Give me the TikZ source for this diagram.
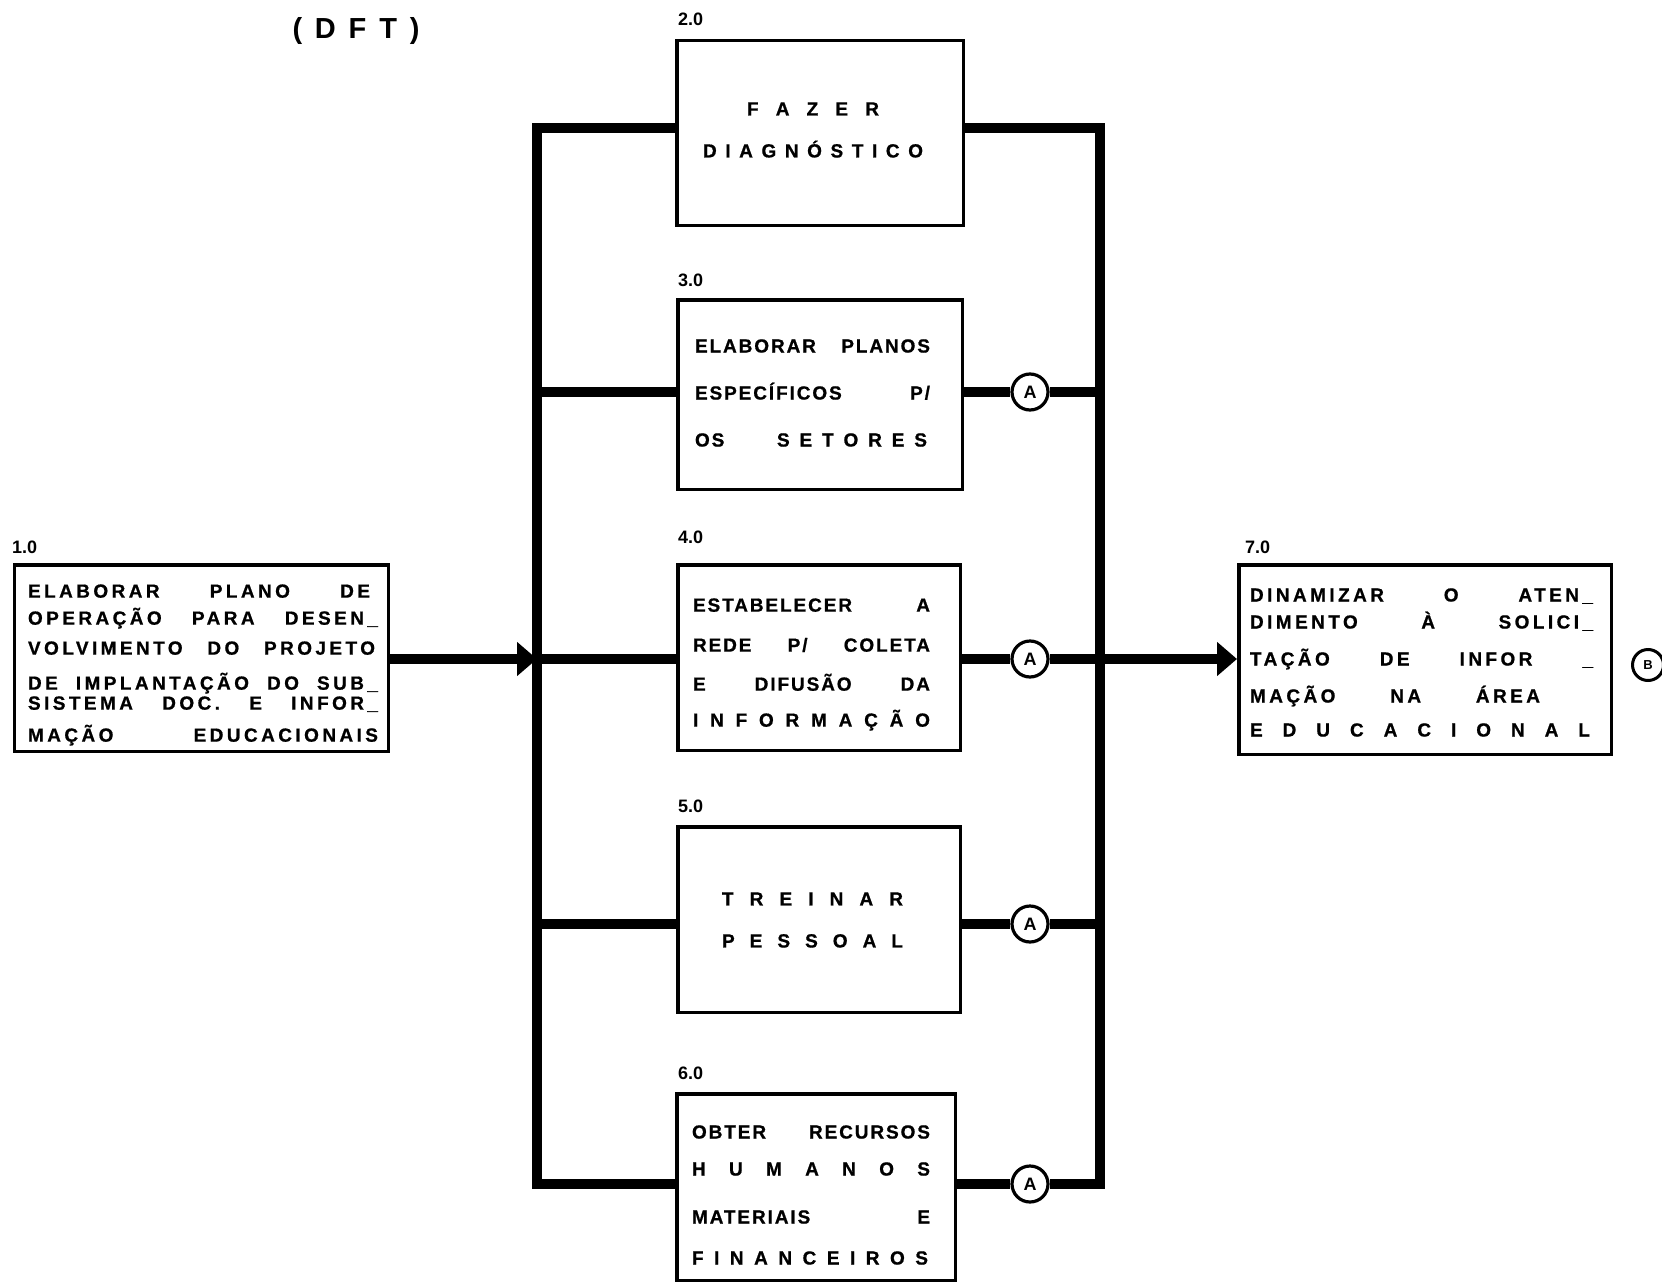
\documentclass[tikz,border=0pt]{standalone}
\usepackage{fontspec}
\setmainfont{Liberation Sans}
\newfontfamily\bxf{Liberation Sans}[LetterSpace=10, BoldFeatures={FakeBold=0.8}]
\newfontfamily\bxw{Liberation Sans}[LetterSpace=18, BoldFeatures={FakeBold=0.8}]
\usetikzlibrary{arrows.meta}
\newcommand\spr[2]{\makebox[#1][s]{#2}}
\newcommand\bxfont[2]{#1\bfseries\fontsize{19pt}{#2}\selectfont\lineskiplimit=-100pt }
\tikzset{
  pbox/.style={draw, line width=3.5pt, fill=white, inner sep=0pt},
  txt/.style={inner sep=0pt, text=black},
  lab/.style={inner sep=0pt, anchor=west, font=\bfseries\fontsize{18pt}{20pt}\selectfont},
  conn/.style={draw, circle, line width=3.2pt, fill=white, inner sep=0pt, minimum size=36pt, font=\bfseries\fontsize{18pt}{20pt}\selectfont},
  bus/.style={line width=9.5pt, line join=miter},
  tip/.style={-{Triangle[length=20pt,width=33pt]}}
}
\begin{document}
\begin{tikzpicture}[x=1pt,y=-1pt]
\useasboundingbox (0,0) rectangle (1662,1287);

% title
\node[txt, font=\bfseries\fontsize{29pt}{34pt}\selectfont] (title) at (356,31) {\spr{127pt}{( D F T )}};

% boxes
\node[pbox, minimum width=374pt, minimum height=186.5pt] (b1) at (201.5,658) {};
\node[pbox, minimum width=286.5pt, minimum height=184.5pt] (b2) at (820,133) {};
\node[pbox, minimum width=284.5pt, minimum height=189.5pt] (b3) at (820,394.5) {};
\node[pbox, minimum width=282.5pt, minimum height=185.5pt] (b4) at (819,657.5) {};
\node[pbox, minimum width=282.5pt, minimum height=185.5pt] (b5) at (819,919.5) {};
\node[pbox, minimum width=278.5pt, minimum height=186.5pt] (b6) at (816,1187) {};
\node[pbox, minimum width=372.5pt, minimum height=189.5pt] (b7) at (1425,659.5) {};

% labels
\node[lab] (l1) at (12,547) {1.0};
\node[lab] (l2) at (678,19) {2.0};
\node[lab] (l3) at (678,280) {3.0};
\node[lab] (l4) at (678,537) {4.0};
\node[lab] (l5) at (678,806) {5.0};
\node[lab] (l6) at (678,1073) {6.0};
\node[lab] (l7) at (1245,547) {7.0};

% texts
\node[txt, align=left, font=\bxfont{\bxw}{16pt}] (t1) at (203,665) {%
\spr{342pt}{ELABORAR PLANO DE}\\[11pt]
\spr{350pt}{OPERAÇÃO PARA DESEN\_}\\[14pt]
\spr{347pt}{VOLVIMENTO DO PROJETO}\\[19pt]
\spr{350pt}{DE IMPLANTAÇÃO DO SUB\_}\\[4pt]
\spr{350pt}{SISTEMA DOC. E INFOR\_}\\[16pt]
\spr{350pt}{MAÇÃO EDUCACIONAIS}};

\node[txt, align=center, font=\bxfont{\bxf}{42pt}] (t2) at (813,130) {%
\spr{132pt}{F A Z E R}\\
\spr{220pt}{D I A G N Ó S T I C O}};

\node[txt, align=left, font=\bxfont{\bxf}{47pt}] (t3) at (812.5,393) {%
\spr{235pt}{ELABORAR PLANOS}\\
\spr{235pt}{ESPECÍFICOS P/}\\
\spr{232pt}{OS\hfill\spr{150pt}{S E T O R E S}}};

\node[txt, align=left, font=\bxfont{\bxf}{36pt}] (t4) at (811.5,664.5) {%
\spr{237pt}{ESTABELECER A}\\[4pt]
\spr{237pt}{REDE P/ COLETA}\\[3pt]
\spr{237pt}{E DIFUSÃO DA}\\
\spr{237pt}{I N F O R M A Ç Ã O}};

\node[txt, align=center, font=\bxfont{\bxf}{42pt}] (t5) at (812.5,920) {%
\spr{181pt}{T R E I N A R}\\
\spr{181pt}{P E S S O A L}};

\node[txt, align=left, font=\bxfont{\bxf}{37pt}] (t6) at (811,1195) {%
\spr{238pt}{OBTER RECURSOS}\\
\spr{238pt}{H U M A N O S}\\[11pt]
\spr{238pt}{MATERIAIS E}\\[4pt]
\spr{236pt}{F I N A N C E I R O S}};

\node[txt, align=left, font=\bxfont{\bxw}{27pt}] (t7) at (1421.5,662.5) {%
\spr{343pt}{DINAMIZAR O ATEN\_}\\
\spr{343pt}{DIMENTO À SOLICI\_}\\[10pt]
\spr{343pt}{TAÇÃO DE INFOR \_}\\[10pt]
\spr{290pt}{MAÇÃO NA ÁREA}\\[7pt]
\spr{340pt}{E D U C A C I O N A L}};

% connector circles
\node[conn] (a3) at (1030,392) {A};
\node[conn] (a4) at (1030,659) {A};
\node[conn] (a5) at (1030,924) {A};
\node[conn] (a6) at (1030,1184) {A};
\node[conn, minimum size=31pt, line width=3pt, font=\bfseries\fontsize{13pt}{15pt}\selectfont] (cB) at (1648,665) {B};

% bus coordinates
\coordinate (LT) at (537,128);
\coordinate (LB) at (537,1184);
\coordinate (RT) at (1100,128);
\coordinate (RB) at (1100,1184);

% buses
\draw[bus] (b2.west |- LT) -- (LT) -- (LB) -- (b6.west |- LB);
\draw[bus] (b2.east |- RT) -- (RT) -- (RB) -- (a6);
\draw[bus] (b6.east |- a6) -- (a6);

% branches
\draw[bus] (LT |- a3) -- (b3.west |- a3);
\draw[bus] (b3.east |- a3) -- (a3);
\draw[bus] (a3) -- (RT |- a3);
\draw[bus] (LT |- a4) -- (b4.west |- a4);
\draw[bus] (b4.east |- a4) -- (a4);
\draw[bus] (LT |- a5) -- (b5.west |- a5);
\draw[bus] (b5.east |- a5) -- (a5);
\draw[bus] (a5) -- (RT |- a5);

% input and output arrows
\draw[bus, tip] (b1.east |- a4) -- (LT |- a4);
\draw[bus, tip] (a4) -- (b7.west |- a4);
\end{tikzpicture}
\end{document}
